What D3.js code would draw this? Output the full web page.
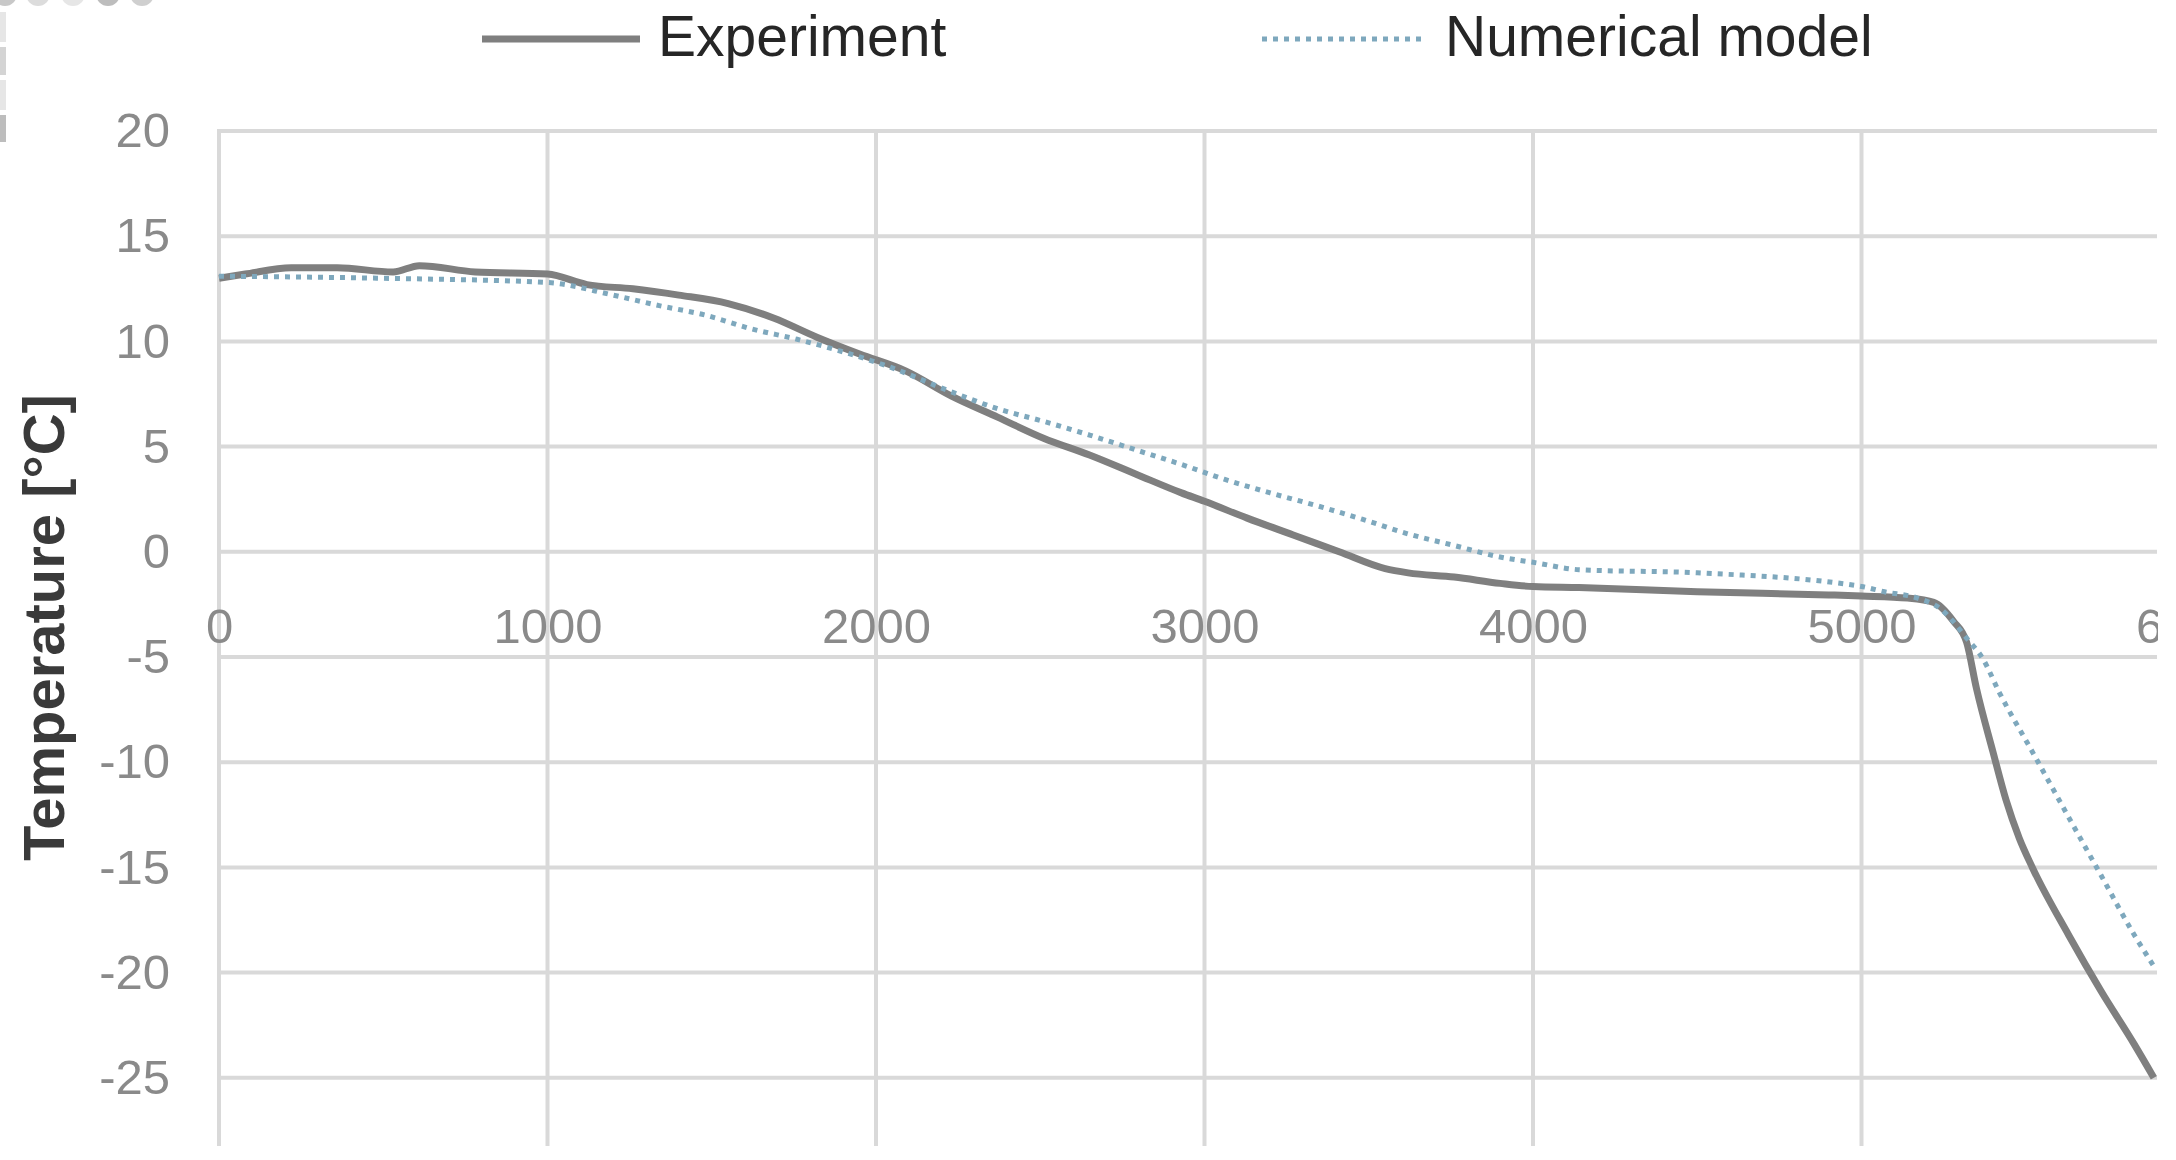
<!DOCTYPE html>
<html>
<head>
<meta charset="utf-8">
<script src="https://cdn.jsdelivr.net/npm/d3@7"></script>
<style>
  html, body { margin: 0; padding: 0; background: #fff; }
  svg { display: block; }
</style>
</head>
<body>
<div id="chart"></div>
<script>
// time [s] and temperature [°C]
const expTime = [0, 80, 220, 360, 530, 610, 780, 1000, 1120, 1260, 1400, 1550, 1690, 1820, 1950, 2090, 2230, 2370, 2510, 2650, 2790, 2930, 3000, 3130, 3270, 3410, 3550, 3620, 3760, 3900, 4000, 4140, 4500, 4900, 5000, 5140, 5220, 5280, 5320, 5350, 5400, 5440, 5480, 5520, 5630, 5730, 5830, 5890];
const expTemp = [13.0, 13.2, 13.5, 13.5, 13.3, 13.6, 13.3, 13.2, 12.7, 12.5, 12.2, 11.8, 11.1, 10.2, 9.4, 8.6, 7.4, 6.4, 5.4, 4.6, 3.7, 2.8, 2.4, 1.6, 0.8, 0.0, -0.8, -1.0, -1.2, -1.5, -1.65, -1.7, -1.9, -2.05, -2.1, -2.2, -2.4, -3.3, -4.3, -6.5, -9.5, -11.8, -13.6, -15.0, -18.2, -20.9, -23.4, -25.0];

const numTime = [0, 500, 1000, 1200, 1340, 1480, 1620, 1760, 1900, 2030, 2230, 2370, 2510, 2650, 2790, 2930, 3060, 3200, 3340, 3480, 3620, 3760, 3900, 4000, 4140, 4500, 5000, 5070, 5170, 5240, 5320, 5370, 5420, 5520, 5630, 5730, 5830, 5890];
const numTemp = [13.1, 13.0, 12.8, 12.2, 11.7, 11.25, 10.6, 10.1, 9.5, 8.85, 7.6, 6.8, 6.2, 5.55, 4.85, 4.15, 3.45, 2.8, 2.2, 1.55, 0.85, 0.3, -0.25, -0.5, -0.85, -1.0, -1.65, -1.9, -2.2, -2.7, -4.1, -5.1, -6.7, -9.5, -12.6, -15.4, -18.2, -19.7];

const xTicks = [0, 1000, 2000, 3000, 4000, 5000, 6000];
const yTicks = [20, 15, 10, 5, 0, -5, -10, -15, -20, -25];
const seriesNames = ["Experiment", "Numerical model"];

const width = 2176;
const height = 1160;
const font = "'Liberation Sans', Arial, sans-serif";
const gridColor = "#d9d9d9";
const expColor = "#7f7f7f";
const numColor = "#7ea8bd";

const svg = d3.select("#chart")
  .append("svg")
  .attr("width", width)
  .attr("height", height);

// scales
const x = d3.scaleLinear().domain([0, 6000]).range([219, 2190]);
const y = d3.scaleLinear().domain([-30, 20]).range([1183, 131]);

// the source image is cut off on the right and bottom
const defs = svg.append("defs");
defs.append("clipPath")
  .attr("id", "plotClip")
  .append("rect")
  .attr("x", 150).attr("y", 100)
  .attr("width", 2157 - 150).attr("height", 1146 - 100);
defs.append("clipPath")
  .attr("id", "edgeClip")
  .append("rect")
  .attr("x", 0).attr("y", 0)
  .attr("width", 2158).attr("height", height);

const plot = svg.append("g").attr("clip-path", "url(#plotClip)");

// grid
plot.selectAll("line.hgrid")
  .data(yTicks)
  .enter()
  .append("line")
  .attr("class", "hgrid")
  .attr("x1", x(0)).attr("x2", x(6000))
  .attr("y1", d => y(d)).attr("y2", d => y(d))
  .attr("stroke", gridColor)
  .attr("stroke-width", 4);

plot.selectAll("line.vgrid")
  .data(xTicks)
  .enter()
  .append("line")
  .attr("class", "vgrid")
  .attr("x1", d => x(d)).attr("x2", d => x(d))
  .attr("y1", y(20) - 2).attr("y2", y(-30))
  .attr("stroke", gridColor)
  .attr("stroke-width", 4);

// axes (labels only)
const xAxis = svg.append("g")
  .attr("clip-path", "url(#edgeClip)")
  .append("g")
  .attr("transform", `translate(0, ${y(0)})`)
  .call(d3.axisBottom(x).tickValues(xTicks).tickSize(0).tickPadding(56).tickFormat(d => String(d)));

const yAxis = svg.append("g")
  .attr("transform", `translate(${x(0)}, 0)`)
  .call(d3.axisLeft(y).tickValues(yTicks).tickSize(0).tickPadding(49).tickFormat(d => String(d)));

[xAxis, yAxis].forEach(g => {
  g.select(".domain").remove();
  g.selectAll("text")
    .attr("fill", "#8a8a8a")
    .style("font-family", font)
    .style("font-size", "49px");
});

// lines
const line = d3.line()
  .x(d => x(d[0]))
  .y(d => y(d[1]))
  .curve(d3.curveMonotoneX);

plot.append("path")
  .datum(d3.zip(expTime, expTemp))
  .attr("fill", "none")
  .attr("stroke", expColor)
  .attr("stroke-width", 7)
  .attr("stroke-linejoin", "round")
  .attr("d", line);

plot.append("path")
  .datum(d3.zip(numTime, numTemp))
  .attr("fill", "none")
  .attr("stroke", numColor)
  .attr("stroke-width", 5)
  .attr("stroke-dasharray", "5 6")
  .attr("d", line);

// y axis title
svg.append("text")
  .attr("transform", `translate(64, ${y(-3.6)}) rotate(-90)`)
  .attr("text-anchor", "middle")
  .attr("fill", "#3a3a3a")
  .style("font-family", font)
  .style("font-size", "58px")
  .style("font-weight", "bold")
  .text("Temperature [°C]");

// legend
const legend = svg.append("g");
legend.append("line")
  .attr("x1", 482).attr("x2", 640).attr("y1", 39).attr("y2", 39)
  .attr("stroke", expColor).attr("stroke-width", 7);
legend.append("line")
  .attr("x1", 1262).attr("x2", 1425).attr("y1", 39).attr("y2", 39)
  .attr("stroke", numColor).attr("stroke-width", 5).attr("stroke-dasharray", "5 6");
legend.selectAll("text")
  .data(seriesNames)
  .enter()
  .append("text")
  .attr("x", (d, i) => i === 0 ? 658 : 1445)
  .attr("y", 56)
  .attr("fill", "#262626")
  .style("font-family", font)
  .style("font-size", "57px")
  .text(d => d);

// bits of a frame visible in the top-left corner of the source
const deco = svg.append("g");
[[5, "#c8c8c8"], [38, "#dcdcdc"], [73, "#e6e6e6"], [108, "#bdbdbd"], [142, "#cfcfcf"]].forEach(c => {
  deco.append("circle").attr("cx", c[0]).attr("cy", -6).attr("r", 12).attr("fill", c[1]);
});
[[12, 42, "#e6e6e6"], [47, 75, "#d4d4d4"], [80, 110, "#e6e6e6"], [115, 142, "#bdbdbd"]].forEach(b => {
  deco.append("rect").attr("x", 0).attr("y", b[0]).attr("width", 6).attr("height", b[1] - b[0]).attr("fill", b[2]);
});
</script>
</body>
</html>
